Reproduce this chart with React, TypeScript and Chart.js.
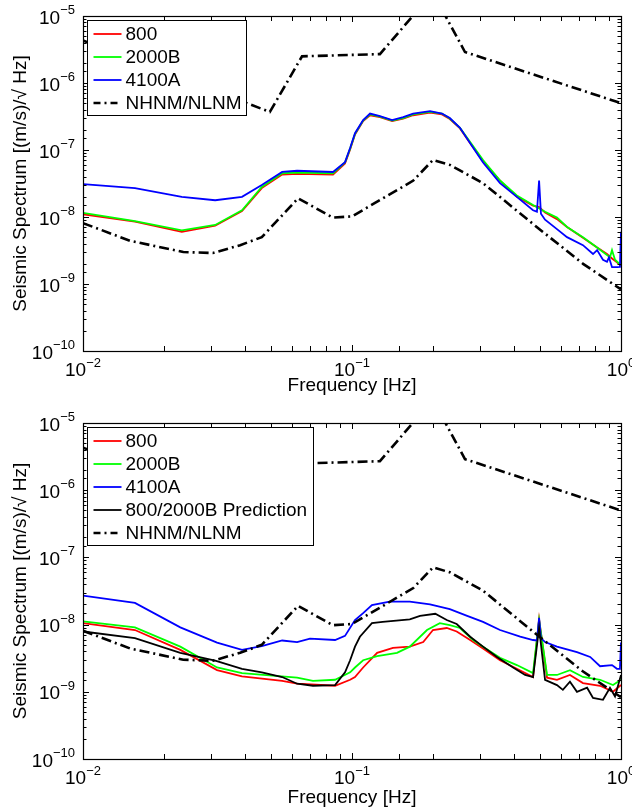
import React, { useEffect, useRef } from "react";
import { Chart, registerables } from "chart.js";

Chart.register(...registerables);

const FONT = "'Liberation Sans', Arial, Helvetica, sans-serif";

// ---------- Tick labels ----------
const xTickValues = [0.01, 0.1, 1];
const xTickLabels = [["10", "\u22122"], ["10", "\u22121"], ["10", "0"]];
const yTickValues = [1e-10, 1e-9, 1e-8, 1e-7, 1e-6, 1e-5];
const yTickLabels = [["10", "\u221210"], ["10", "\u22129"], ["10", "\u22128"], ["10", "\u22127"], ["10", "\u22126"], ["10", "\u22125"]];

// ---------- Noise models (shared by both panels) ----------
const nhnmF = [0.01, 0.0407, 0.0495, 0.0652, 0.127, 0.169, 0.19, 0.222, 0.263, 1.0];
const nhnmV = [4.3e-6, 5.0e-7, 3.7e-7, 2.5e-6, 2.7e-6, 1.02e-5, 1.17e-5, 1.02e-5, 2.9e-6, 5.0e-7];
const nlnmF = [0.01, 0.015, 0.0236, 0.0304, 0.0384, 0.0462, 0.063, 0.0849, 0.1, 0.169, 0.2, 0.231, 0.307, 0.486, 0.723, 1.0];
const nlnmV = [8.1e-9, 4.4e-9, 3.0e-9, 2.9e-9, 3.8e-9, 5.0e-9, 1.9e-8, 9.8e-9, 1.02e-8, 3.5e-8, 7.1e-8, 6.0e-8, 3.2e-8, 7.1e-9, 2.0e-9, 8.3e-10];

// ---------- Top panel ----------
const top4100aF = [0.01, 0.0156, 0.0233, 0.031, 0.039, 0.0462, 0.055, 0.0625, 0.085, 0.0942, 0.0984, 0.1026, 0.11, 0.1167, 0.127, 0.141, 0.155, 0.1687, 0.195, 0.216, 0.231, 0.252, 0.275, 0.307, 0.355, 0.41, 0.471, 0.487, 0.496, 0.504, 0.522, 0.578, 0.63, 0.722, 0.787, 0.815, 0.857, 0.887, 0.902, 0.926, 0.966, 0.991, 1.0];
const top4100aV = [3.1e-8, 2.7e-8, 2.0e-8, 1.78e-8, 2.0e-8, 3.0e-8, 4.7e-8, 4.9e-8, 4.7e-8, 6.6e-8, 1.07e-7, 1.78e-7, 2.8e-7, 3.5e-7, 3.2e-7, 2.8e-7, 3.1e-7, 3.5e-7, 3.8e-7, 3.5e-7, 3.0e-7, 2.14e-7, 1.26e-7, 6.5e-8, 3.2e-8, 2.0e-8, 1.26e-8, 1.2e-8, 3.5e-8, 1.12e-8, 9.1e-9, 6.6e-9, 5.0e-9, 3.8e-9, 2.8e-9, 3.2e-9, 2.3e-9, 2.14e-9, 2.5e-9, 1.78e-9, 1.78e-9, 1.8e-9, 6.0e-9];

const top800F = [0.01, 0.0156, 0.0233, 0.031, 0.039, 0.0462, 0.055, 0.0625, 0.085, 0.0942, 0.0984, 0.1026, 0.11, 0.1167, 0.127, 0.141, 0.155, 0.1687, 0.195, 0.216, 0.231, 0.252, 0.275, 0.307, 0.355, 0.41, 0.471, 0.496, 0.522, 0.578, 0.63, 0.722, 0.815, 0.887, 0.926, 0.966, 1.0];
const top800V = [1.1e-8, 8.5e-9, 6.0e-9, 7.4e-9, 1.23e-8, 2.7e-8, 4.3e-8, 4.4e-8, 4.3e-8, 6.3e-8, 1.02e-7, 1.7e-7, 2.7e-7, 3.3e-7, 3.1e-7, 2.7e-7, 2.95e-7, 3.3e-7, 3.6e-7, 3.4e-7, 2.9e-7, 2.1e-7, 1.26e-7, 6.8e-8, 3.5e-8, 2.0e-8, 1.48e-8, 1.41e-8, 1.17e-8, 9.3e-9, 7.1e-9, 4.9e-9, 3.5e-9, 2.8e-9, 2.4e-9, 2.1e-9, 1.86e-9];

const top2000bF = [0.01, 0.0156, 0.0233, 0.031, 0.039, 0.0462, 0.055, 0.0625, 0.085, 0.0942, 0.0984, 0.1026, 0.11, 0.1167, 0.127, 0.141, 0.155, 0.1687, 0.195, 0.216, 0.231, 0.252, 0.275, 0.307, 0.355, 0.41, 0.471, 0.522, 0.578, 0.63, 0.722, 0.815, 0.887, 0.91, 0.926, 0.95, 1.0];
const top2000bV = [1.15e-8, 8.7e-9, 6.3e-9, 7.6e-9, 1.26e-8, 2.8e-8, 4.5e-8, 4.6e-8, 4.5e-8, 6.5e-8, 1.05e-7, 1.74e-7, 2.75e-7, 3.4e-7, 3.16e-7, 2.75e-7, 3.0e-7, 3.4e-7, 3.7e-7, 3.5e-7, 2.95e-7, 2.14e-7, 1.32e-7, 7.1e-8, 3.5e-8, 2.1e-8, 1.51e-8, 1.2e-8, 9.8e-9, 7.1e-9, 5.0e-9, 3.5e-9, 2.7e-9, 2.5e-9, 3.2e-9, 2.3e-9, 1.9e-9];

// ---------- Bottom panel ----------
const bot800F = [0.01, 0.0156, 0.023, 0.0315, 0.039, 0.055, 0.0625, 0.0865, 0.0984, 0.1026, 0.11, 0.124, 0.142, 0.164, 0.184, 0.2, 0.225, 0.245, 0.275, 0.307, 0.355, 0.41, 0.471, 0.496, 0.531, 0.578, 0.646, 0.722, 0.836, 0.934, 1.0];
const bot800V = [1.05e-8, 8.3e-9, 4.2e-9, 2.1e-9, 1.7e-9, 1.45e-9, 1.32e-9, 1.23e-9, 1.51e-9, 1.66e-9, 2.3e-9, 3.8e-9, 4.5e-9, 4.7e-9, 5.5e-9, 8.3e-9, 8.9e-9, 7.9e-9, 5.9e-9, 4.4e-9, 2.95e-9, 2.2e-9, 1.66e-9, 1.2e-8, 1.62e-9, 1.51e-9, 1.78e-9, 1.35e-9, 1.23e-9, 1.0e-9, 1.26e-9];

const bot2000bF = [0.01, 0.0156, 0.023, 0.0315, 0.039, 0.0625, 0.0716, 0.0865, 0.0984, 0.1026, 0.11, 0.124, 0.147, 0.164, 0.19, 0.212, 0.231, 0.252, 0.282, 0.307, 0.355, 0.41, 0.471, 0.496, 0.531, 0.578, 0.646, 0.722, 0.836, 0.934, 1.0];
const bot2000bV = [1.12e-8, 9.1e-9, 4.7e-9, 2.3e-9, 1.9e-9, 1.62e-9, 1.45e-9, 1.51e-9, 1.95e-9, 2.3e-9, 2.95e-9, 3.4e-9, 3.8e-9, 4.7e-9, 8.3e-9, 1.05e-8, 9.8e-9, 8.9e-9, 5.9e-9, 4.7e-9, 3.2e-9, 2.5e-9, 1.9e-9, 1.17e-8, 1.78e-9, 1.78e-9, 2.1e-9, 1.66e-9, 1.51e-9, 1.26e-9, 1.51e-9];

const bot4100aF = [0.01, 0.0156, 0.023, 0.0315, 0.039, 0.0462, 0.055, 0.0625, 0.0698, 0.0865, 0.0942, 0.1026, 0.11, 0.1186, 0.138, 0.164, 0.195, 0.231, 0.268, 0.307, 0.355, 0.422, 0.471, 0.487, 0.496, 0.504, 0.522, 0.578, 0.686, 0.768, 0.836, 0.926, 0.966, 0.991, 1.0];
const bot4100aV = [2.7e-8, 2.1e-8, 9.1e-9, 5.4e-9, 4.2e-9, 4.8e-9, 5.8e-9, 5.5e-9, 6.2e-9, 5.9e-9, 6.8e-9, 1.17e-8, 1.48e-8, 1.95e-8, 2.2e-8, 2.2e-8, 2.0e-8, 1.7e-8, 1.35e-8, 1.1e-8, 8.3e-9, 6.6e-9, 5.9e-9, 5.8e-9, 1.26e-8, 6.3e-9, 5.5e-9, 4.7e-9, 3.9e-9, 3.3e-9, 2.4e-9, 2.5e-9, 2.2e-9, 2.2e-9, 5.4e-9];

const botPredF = [0.01, 0.0156, 0.023, 0.031, 0.039, 0.0462, 0.055, 0.0625, 0.0716, 0.0865, 0.0942, 0.0984, 0.1026, 0.107, 0.1186, 0.13, 0.164, 0.179, 0.204, 0.225, 0.245, 0.275, 0.307, 0.346, 0.397, 0.44, 0.471, 0.496, 0.522, 0.578, 0.608, 0.646, 0.686, 0.748, 0.787, 0.857, 0.91, 0.95, 1.0];
const botPredV = [7.9e-9, 6.3e-9, 3.8e-9, 2.9e-9, 2.2e-9, 1.95e-9, 1.66e-9, 1.32e-9, 1.23e-9, 1.26e-9, 1.95e-9, 2.95e-9, 4.7e-9, 6.6e-9, 1.05e-8, 1.1e-8, 1.2e-8, 1.35e-8, 1.45e-8, 1.17e-8, 1.02e-8, 6.6e-9, 4.7e-9, 3.3e-9, 2.3e-9, 1.78e-9, 1.66e-9, 8.9e-9, 1.51e-9, 1.26e-9, 1.07e-9, 1.41e-9, 1.0e-9, 1.15e-9, 8.1e-10, 7.6e-10, 1.15e-9, 8.5e-10, 1.78e-9];

const xTitle = "Frequency [Hz]";
const yTitle = "Seismic Spectrum [(m/s)/\u221A Hz]";

function isPow10(v: number) {
  const l = Math.log10(v);
  return Math.abs(l - Math.round(l)) < 1e-6;
}
function pts(f: number[], v: number[]) {
  return f.map((x, i) => ({ x, y: v[i] }));
}

const DASHDOT = [10, 4, 2, 4];

type S = { label: string; f: number[]; v: number[]; color: string; width: number; dash?: number[]; order: number; inLegend: boolean };

function drawPow(ctx: CanvasRenderingContext2D, base: string, exp: string, x: number, baseline: number, align: "right" | "center") {
  ctx.font = `19px ${FONT}`;
  const wb = ctx.measureText(base).width;
  ctx.font = `13px ${FONT}`;
  const we = ctx.measureText(exp).width;
  const total = wb + we;
  const x0 = align === "right" ? x - total : x - total / 2;
  ctx.textAlign = "left";
  ctx.textBaseline = "alphabetic";
  ctx.fillStyle = "#000";
  ctx.font = `19px ${FONT}`;
  ctx.fillText(base, x0, baseline);
  ctx.font = `13px ${FONT}`;
  ctx.fillText(exp, x0 + wb, baseline - 9.5);
}

const framePlugin = {
  id: "frameTicks",
  afterDatasetsDraw(chart: any) {
    const { ctx, chartArea: a } = chart;
    const xs = chart.scales.x;
    const ys = chart.scales.y;
    ctx.save();
    ctx.strokeStyle = "#000";
    ctx.lineWidth = 1;
    ctx.setLineDash([]);
    const seg = (x1: number, y1: number, x2: number, y2: number) => {
      ctx.beginPath();
      ctx.moveTo(x1, y1);
      ctx.lineTo(x2, y2);
      ctx.stroke();
    };
    for (const t of xs.ticks) {
      const px = Math.round(xs.getPixelForValue(t.value)) + 0.5;
      const len = isPow10(t.value) ? 6 : 5;
      seg(px, a.bottom, px, a.bottom - len);
      seg(px, a.top, px, a.top + len);
    }
    for (const t of ys.ticks) {
      const py = Math.round(ys.getPixelForValue(t.value)) + 0.5;
      const len = isPow10(t.value) ? 6 : 3.5;
      seg(a.left, py, a.left + len, py);
      seg(a.right, py, a.right - len, py);
    }
    ctx.lineWidth = 1.2;
    ctx.strokeRect(Math.round(a.left) + 0.5, Math.round(a.top) + 0.5, Math.round(a.right - a.left), Math.round(a.bottom - a.top));
    xTickValues.forEach((v, i) => {
      const px = xs.getPixelForValue(v);
      drawPow(ctx, xTickLabels[i][0], xTickLabels[i][1], px, a.bottom + 25, "center");
    });
    yTickValues.forEach((v, i) => {
      const py = ys.getPixelForValue(v);
      drawPow(ctx, yTickLabels[i][0], yTickLabels[i][1], a.left - 8, py + 7.5, "right");
    });
    ctx.restore();
  },
};

function legendPlugin(boxW: number, boxH: number) {
  return {
    id: "boxLegend",
    afterDatasetsDraw(chart: any) {
      const { ctx, chartArea: a } = chart;
      const x0 = Math.round(a.left) + 4.5;
      const y0 = Math.round(a.top) + 4.5;
      ctx.save();
      ctx.fillStyle = "#fff";
      ctx.fillRect(x0, y0, boxW, boxH);
      ctx.strokeStyle = "#000";
      ctx.lineWidth = 1;
      ctx.setLineDash([]);
      ctx.strokeRect(x0, y0, boxW, boxH);
      const items = chart.data.datasets.filter((d: any) => d.inLegend);
      items.forEach((d: any, i: number) => {
        const y = y0 + 13.5 + i * 23;
        ctx.strokeStyle = d.borderColor;
        ctx.lineWidth = d.borderWidth;
        ctx.setLineDash(d.borderDash && d.borderDash.length ? [7, 4, 2, 4] : []);
        ctx.beginPath();
        ctx.moveTo(x0 + 6, y);
        ctx.lineTo(x0 + 34, y);
        ctx.stroke();
        ctx.setLineDash([]);
        ctx.fillStyle = "#000";
        ctx.font = `19px ${FONT}`;
        ctx.textBaseline = "middle";
        ctx.textAlign = "left";
        ctx.fillText(d.label, x0 + 38, y + 1);
      });
      ctx.restore();
    },
  };
}

function makeConfig(series: S[], padTop: number, xAxisH: number, titlePadBottom: number, boxW: number, boxH: number): any {
  return {
    type: "line",
    data: {
      datasets: series.map((s) => ({
        label: s.label,
        data: pts(s.f, s.v),
        borderColor: s.color,
        backgroundColor: s.color,
        borderWidth: s.width,
        borderDash: s.dash || [],
        pointRadius: 0,
        tension: 0,
        fill: false,
        clip: 0,
        order: s.order,
        inLegend: s.inLegend,
      })),
    },
    options: {
      animation: false,
      responsive: false,
      events: [],
      layout: { padding: { top: padTop, right: 11, left: 0, bottom: 0 } },
      plugins: { legend: { display: false }, tooltip: { enabled: false } },
      scales: {
        x: {
          type: "logarithmic",
          min: 0.01,
          max: 1,
          grid: { display: false, drawTicks: false },
          border: { display: false },
          ticks: { display: false, autoSkip: false },
          title: { display: true, text: xTitle, color: "#000", font: { size: 19, family: FONT }, padding: { top: 0, bottom: titlePadBottom } },
          afterFit: (s: any) => {
            s.height = xAxisH;
            s.paddingLeft = 0;
            s.paddingRight = 0;
          },
        },
        y: {
          type: "logarithmic",
          min: 1e-10,
          max: 1e-5,
          grid: { display: false, drawTicks: false },
          border: { display: false },
          ticks: { display: false, autoSkip: false },
          title: { display: true, text: yTitle, color: "#000", font: { size: 19, family: FONT }, padding: { top: 9, bottom: 0 } },
          afterFit: (s: any) => {
            s.width = 83;
            s.paddingTop = 0;
            s.paddingBottom = 0;
          },
        },
      },
    },
    plugins: [framePlugin, legendPlugin(boxW, boxH)],
  };
}

const topSeries: S[] = [
  { label: "800", f: top800F, v: top800V, color: "#ff0000", width: 1.8, order: 6, inLegend: true },
  { label: "2000B", f: top2000bF, v: top2000bV, color: "#00ff00", width: 1.8, order: 5, inLegend: true },
  { label: "4100A", f: top4100aF, v: top4100aV, color: "#0000ff", width: 1.8, order: 4, inLegend: true },
  { label: "NHNM/NLNM", f: nhnmF, v: nhnmV, color: "#000000", width: 2.6, dash: DASHDOT, order: 1, inLegend: true },
  { label: "NLNM", f: nlnmF, v: nlnmV, color: "#000000", width: 2.6, dash: DASHDOT, order: 2, inLegend: false },
];

const botSeries: S[] = [
  { label: "800", f: bot800F, v: bot800V, color: "#ff0000", width: 1.8, order: 6, inLegend: true },
  { label: "2000B", f: bot2000bF, v: bot2000bV, color: "#00ff00", width: 1.8, order: 5, inLegend: true },
  { label: "4100A", f: bot4100aF, v: bot4100aV, color: "#0000ff", width: 1.8, order: 4, inLegend: true },
  { label: "800/2000B Prediction", f: botPredF, v: botPredV, color: "#000000", width: 1.8, order: 3, inLegend: true },
  { label: "NHNM/NLNM", f: nhnmF, v: nhnmV, color: "#000000", width: 2.6, dash: DASHDOT, order: 1, inLegend: true },
  { label: "NLNM", f: nlnmF, v: nlnmV, color: "#000000", width: 2.6, dash: DASHDOT, order: 2, inLegend: false },
];

export default function App() {
  const topRef = useRef<HTMLCanvasElement | null>(null);
  const botRef = useRef<HTMLCanvasElement | null>(null);

  useEffect(() => {
    Chart.defaults.font.family = FONT;
    Chart.defaults.color = "#000";
    const c1 = new Chart(topRef.current as HTMLCanvasElement, makeConfig(topSeries, 16, 49, 3, 159, 95));
    const c2 = new Chart(botRef.current as HTMLCanvasElement, makeConfig(botSeries, 23, 50, 0, 226, 118));
    return () => {
      c1.destroy();
      c2.destroy();
    };
  }, []);

  return (
    <div style={{ position: "absolute", left: 0, top: 0, width: 632, height: 809, background: "#fff", overflow: "hidden" }}>
      <canvas ref={topRef} width={632} height={400} style={{ position: "absolute", left: 0, top: 0, width: 632, height: 400 }} />
      <canvas ref={botRef} width={632} height={409} style={{ position: "absolute", left: 0, top: 400, width: 632, height: 409 }} />
    </div>
  );
}
